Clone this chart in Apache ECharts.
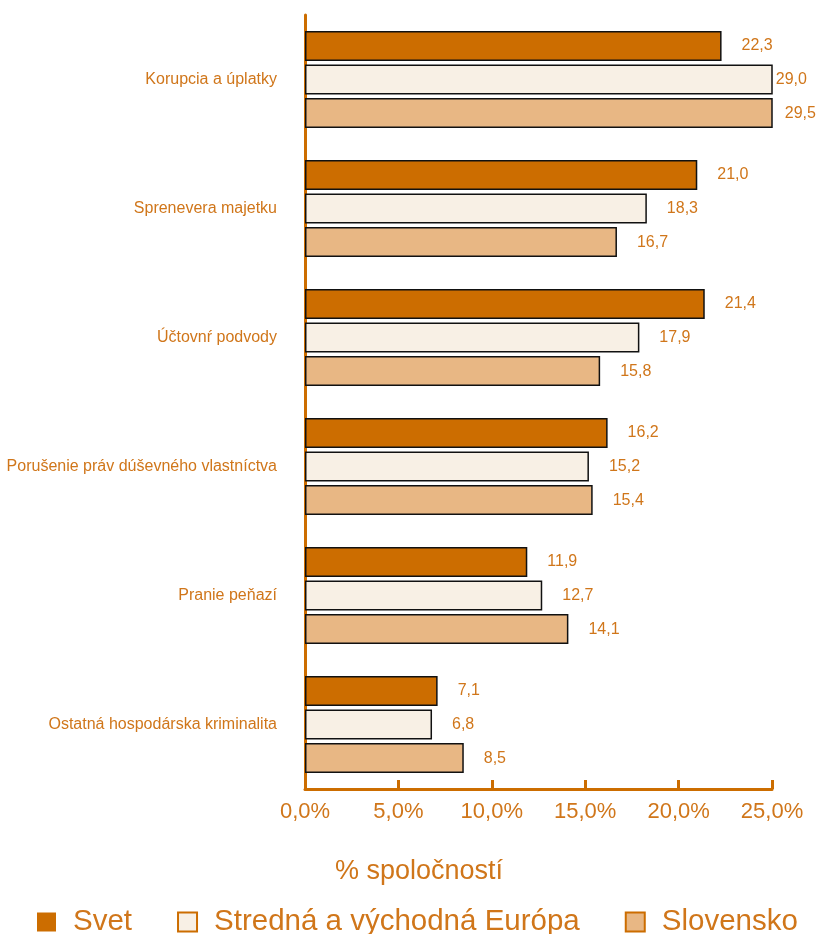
<!DOCTYPE html>
<html>
<head>
<meta charset="utf-8">
<script src="https://cdn.jsdelivr.net/npm/echarts@6/dist/echarts.min.js"></script>
<style>
  html, body { margin: 0; padding: 0; background: #fff; }
  #chart { width: 817px; height: 934px; }
</style>
</head>
<body>
<div id="chart"></div>
<script>
var dom = document.getElementById('chart');
var chart = echarts.init(dom, null, { renderer: 'canvas' });

// categories top to bottom
var categories = [
    'Korupcia a úplatky',
    'Sprenevera majetku',
    'Účtovnŕ podvody',
    'Porušenie práv dúševného vlastníctva',
    'Pranie peňazí',
    'Ostatná hospodárska kriminalita'
];
var svet = [22.3, 21.0, 21.4, 16.2, 11.9, 7.1];
var strednaEuropa = [29.0, 18.3, 17.9, 15.2, 12.7, 6.8];
var slovensko = [29.5, 16.7, 15.8, 15.4, 14.1, 8.5];
var xTicks = [0, 5, 10, 15, 20, 25];
var axisTitle = '% spoločností';

var orange = '#cc6d00';
var textOrange = '#d0761a';
var font = 'Liberation Sans, Arial, sans-serif';
var xMax = xTicks[xTicks.length - 1];

function fmt(v) {
    return v.toFixed(1).replace('.', ',');
}

function makeSeries(name, values, color) {
    return {
        name: name,
        type: 'bar',
        // bars past the axis end get clipped, keep their label close to the edge
        data: values.map(function (v) {
            return v > xMax ? { value: v, label: { distance: v - xMax > 4.2 ? 12 : 3 } } : v;
        }),
        barWidth: 30,
        barGap: '12%',
        clip: true,
        itemStyle: { color: color, borderColor: '#111', borderWidth: 1.5 },
        label: {
            show: true,
            position: 'right',
            distance: 20,
            color: textOrange,
            fontSize: 16,
            fontFamily: font,
            formatter: function (p) { return fmt(p.value); }
        }
    };
}

var option = {
    backgroundColor: '#fff',
    animation: false,
    title: {
        text: axisTitle,
        left: 330,
        top: 853,
        textStyle: { color: textOrange, fontSize: 27, fontWeight: 'normal', fontFamily: font }
    },
    grid: { left: 305, right: 45, top: 15, bottom: 145, containLabel: false },
    xAxis: {
        type: 'value',
        min: xTicks[0],
        max: xMax,
        interval: 5,
        axisLine: { show: true, lineStyle: { color: orange, width: 3 } },
        axisTick: { show: true, inside: true, length: 9, lineStyle: { color: orange, width: 3 } },
        splitLine: { show: false },
        axisLabel: {
            color: textOrange,
            fontSize: 22,
            fontFamily: font,
            margin: 12,
            formatter: function (v) { return fmt(v) + '%'; }
        }
    },
    yAxis: {
        type: 'category',
        data: categories,
        inverse: true,
        axisLine: { show: true, lineStyle: { color: orange, width: 3 } },
        axisTick: { show: false },
        axisLabel: { color: textOrange, fontSize: 16, fontFamily: font, margin: 28, padding: [0, 0, 6, 0] }
    },
    legend: {
        left: 32,
        top: 902,
        icon: 'rect',
        itemWidth: 19,
        itemHeight: 19,
        itemGap: 45,
        textStyle: { color: textOrange, fontSize: 29.5, fontFamily: font, padding: [0, 0, 0, 12] },
        data: [
            { name: 'Svet', itemStyle: { borderWidth: 0 } },
            { name: 'Stredná a východná Európa', itemStyle: { borderColor: orange, borderWidth: 2 } },
            { name: 'Slovensko', itemStyle: { borderColor: orange, borderWidth: 2 } }
        ]
    },
    series: [
        makeSeries('Svet', svet, '#cc6d00'),
        makeSeries('Stredná a východná Európa', strednaEuropa, '#f8f0e5'),
        makeSeries('Slovensko', slovensko, '#e8b784')
    ]
};

chart.setOption(option);
window.addEventListener('resize', function () {
    chart.resize();
});
</script>
</body>
</html>
